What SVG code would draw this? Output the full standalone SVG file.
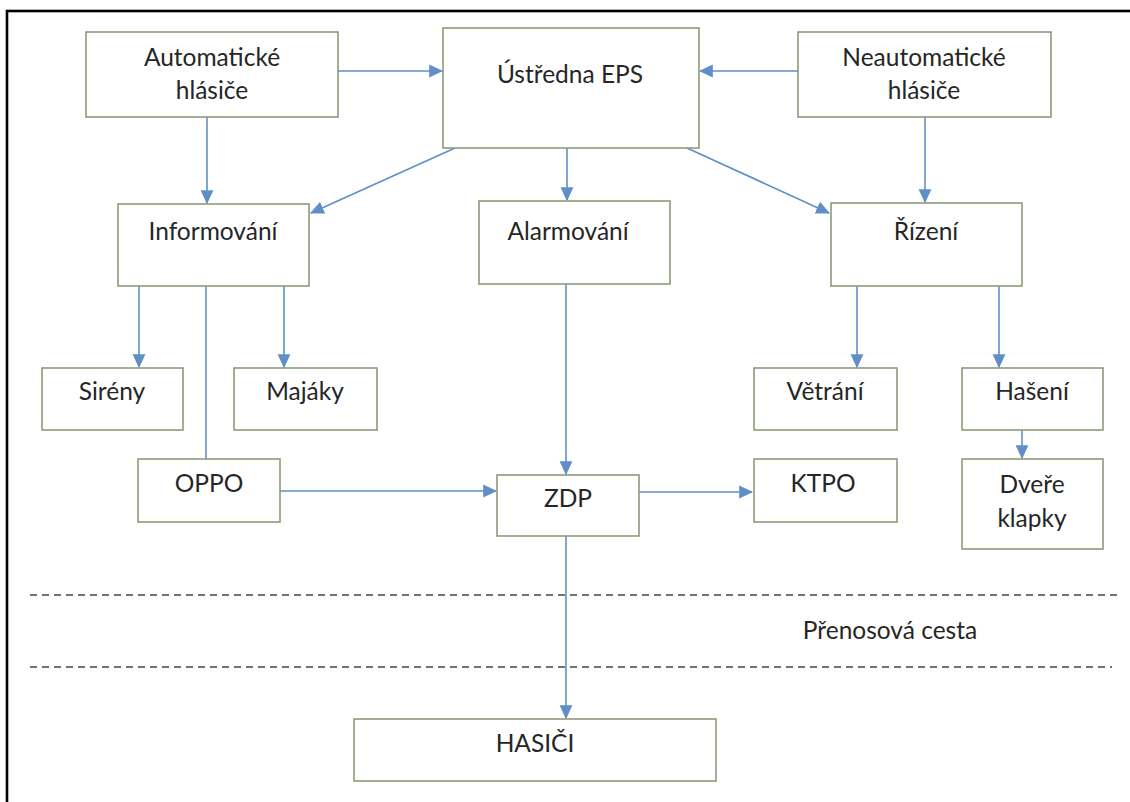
<svg xmlns="http://www.w3.org/2000/svg" width="1130" height="802" viewBox="0 0 1130 802">
<defs>
<style>
.box{fill:#fff;stroke:#8d9b78;stroke-width:1.6}
.lbl{font-family:Lato,"Liberation Sans",sans-serif;font-size:24.5px;fill:#262626;text-anchor:middle}
.con{fill:none;stroke:#5f8fc6;stroke-width:1.6}
.dash{fill:none;stroke:#444;stroke-width:1.6;stroke-dasharray:7 5}
</style>
<marker id="ah" markerUnits="userSpaceOnUse" markerWidth="14" markerHeight="14" viewBox="0 0 12 12" refX="11" refY="6" orient="auto">
<path d="M0,0.5 L12,6 L0,11.5 Z" fill="#5f8fc6"/>
</marker>
</defs>
<rect x="0" y="0" width="1130" height="802" fill="#fff"/>
<rect x="7" y="11" width="1140" height="820" fill="none" stroke="#000" stroke-width="2.6"/>

<g id="connectors">
<path class="con" d="M338,71 H442" marker-end="url(#ah)"/>
<path class="con" d="M798,71 H700" marker-end="url(#ah)"/>
<path class="con" d="M207,117 V203" marker-end="url(#ah)"/>
<path class="con" d="M455,148 L311,213" marker-end="url(#ah)"/>
<path class="con" d="M567,148 V200" marker-end="url(#ah)"/>
<path class="con" d="M687,148 L829,213" marker-end="url(#ah)"/>
<path class="con" d="M925,117 V202" marker-end="url(#ah)"/>
<path class="con" d="M139,286 V367" marker-end="url(#ah)"/>
<path class="con" d="M284,286 V367" marker-end="url(#ah)"/>
<path class="con" d="M206,286 V459"/>
<path class="con" d="M566,284 V474" marker-end="url(#ah)"/>
<path class="con" d="M280,491 H496" marker-end="url(#ah)"/>
<path class="con" d="M639,492 H752" marker-end="url(#ah)"/>
<path class="con" d="M857,286 V367" marker-end="url(#ah)"/>
<path class="con" d="M999,286 V367" marker-end="url(#ah)"/>
<path class="con" d="M1022,430 V458" marker-end="url(#ah)"/>
<path class="con" d="M566,536 V718" marker-end="url(#ah)"/>
</g>

<g id="transfer">
<path class="dash" d="M30,595 H1120"/>
<path class="dash" d="M30,667 H1112"/>
<text class="lbl" x="890" y="639">Přenosová cesta</text>
</g>

<g id="auto"><rect class="box" x="86" y="32" width="252" height="85"/><text class="lbl" x="212" y="66">Automatické</text><text class="lbl" x="212" y="99">hlásiče</text></g>
<g id="ustredna"><rect class="box" x="443" y="28" width="256" height="120"/><text class="lbl" x="570" y="83">Ústředna EPS</text></g>
<g id="neauto"><rect class="box" x="798" y="32" width="253" height="85"/><text class="lbl" x="924" y="66">Neautomatické</text><text class="lbl" x="924" y="99">hlásiče</text></g>
<g id="informovani"><rect class="box" x="118" y="204" width="191" height="82"/><text class="lbl" x="213" y="240">Informování</text></g>
<g id="alarmovani"><rect class="box" x="479" y="201" width="191" height="83"/><text class="lbl" x="568" y="240">Alarmování</text></g>
<g id="rizeni"><rect class="box" x="831" y="203" width="191" height="83"/><text class="lbl" x="926" y="240">Řízení</text></g>
<g id="sireny"><rect class="box" x="42" y="368" width="141" height="62"/><text class="lbl" x="112" y="400">Sirény</text></g>
<g id="majaky"><rect class="box" x="234" y="368" width="143" height="62"/><text class="lbl" x="305" y="400">Majáky</text></g>
<g id="vetrani"><rect class="box" x="754" y="368" width="143" height="62"/><text class="lbl" x="825" y="400">Větrání</text></g>
<g id="haseni"><rect class="box" x="962" y="368" width="141" height="62"/><text class="lbl" x="1032" y="400">Hašení</text></g>
<g id="oppo"><rect class="box" x="138" y="459" width="142" height="63"/><text class="lbl" x="209" y="492">OPPO</text></g>
<g id="zdp"><rect class="box" x="497" y="475" width="142" height="61"/><text class="lbl" x="568" y="507">ZDP</text></g>
<g id="ktpo"><rect class="box" x="754" y="459" width="143" height="63"/><text class="lbl" x="823" y="492">KTPO</text></g>
<g id="dvere"><rect class="box" x="962" y="459" width="141" height="90"/><text class="lbl" x="1032" y="493">Dveře</text><text class="lbl" x="1032" y="527">klapky</text></g>
<g id="hasici"><rect class="box" x="354" y="719" width="362" height="62"/><text class="lbl" x="535" y="752">HASIČI</text></g>
</svg>
